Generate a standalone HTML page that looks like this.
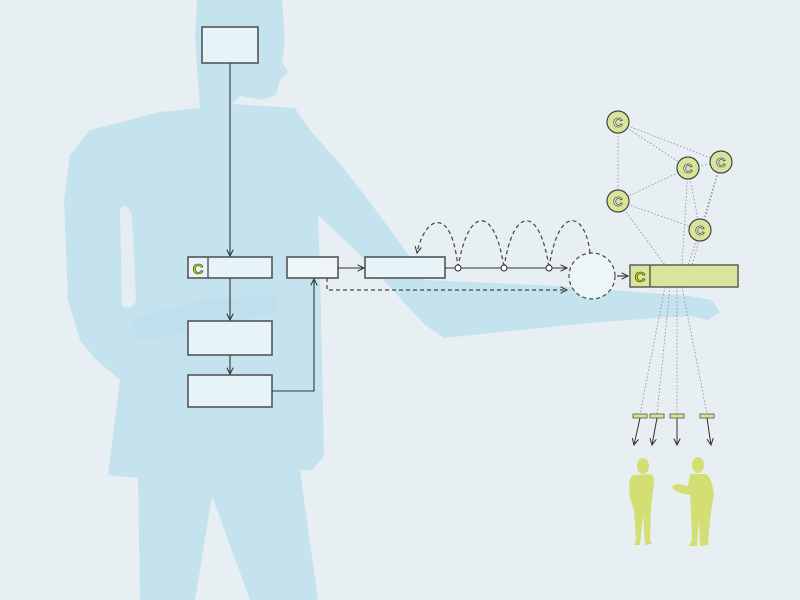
<!DOCTYPE html>
<html><head><meta charset="utf-8"><style>
html,body{margin:0;padding:0;background:#e7eff2;}
svg{display:block;}
</style></head><body>
<svg width="800" height="600" viewBox="0 0 800 600" xmlns="http://www.w3.org/2000/svg">
<defs>
<marker id="ar" viewBox="0 0 10 10" refX="9" refY="5" markerWidth="8" markerHeight="8" orient="auto-start-reverse" markerUnits="userSpaceOnUse"><path d="M1,1 L9,5 L1,9" fill="none" stroke="#333" stroke-width="1.3"/></marker>
</defs>
<rect width="800" height="600" fill="#e7eff2"/>
<!-- silhouette -->
<path fill="#c5e3ee" d="M197,0 L282,0 L285,40 L282,62 L288,72 L280,80 L276,95 L262,100 L240,96 L232,104 L295,108 L310,130 L345,170 L372,205 L405,250 L425,280 L560,286 L690,296 L712,300 L720,312 L708,320 L690,316 L600,322 L520,330 L444,338 L425,325 L400,298 L360,255 L318,215 L320,270 L324,456 L312,470 L300,470 L318,600 L250,600 L212,496 L195,600 L140,600 L138,478 L108,475 L120,380 L96,360 L80,340 L68,300 L64,200 L70,155 L90,130 L160,112 L200,108 L198,82 L195,40 Z"/>
<path fill="#e7eff2" opacity="0.85" d="M120,210 Q126,200 132,215 L136,300 Q132,312 122,306 Z"/>
<path fill="#b9dcea" opacity="0.5" d="M130,320 L200,300 L275,295 L280,310 L210,330 L140,340 Z"/>

<g stroke="#555" stroke-width="1.6" fill="#e6f4f9">
<rect x="202" y="27" width="56" height="36"/>
<rect x="188" y="257" width="84" height="21"/>
<rect x="188" y="321" width="84" height="34"/>
<rect x="188" y="375" width="84" height="32"/>
<rect x="287" y="257" width="51" height="21" fill="#eef6f8"/>
<rect x="365" y="257" width="80" height="21"/>
</g>
<line x1="208" y1="257" x2="208" y2="278" stroke="#555" stroke-width="1.4"/>
<text x="198" y="274" font-family="Liberation Sans, sans-serif" font-weight="bold" font-size="15" fill="#c8d400" stroke="#333" stroke-width="0.6" text-anchor="middle">C</text>

<g stroke="#333" stroke-width="1.1" fill="none">
<line x1="230" y1="63" x2="230" y2="256" marker-end="url(#ar)"/>
<line x1="230" y1="278" x2="230" y2="320" marker-end="url(#ar)"/>
<line x1="230" y1="355" x2="230" y2="374" marker-end="url(#ar)"/>
<polyline points="272,391 314,391 314,279" marker-end="url(#ar)"/>
<line x1="338" y1="268" x2="364" y2="268" marker-end="url(#ar)"/>
<line x1="445" y1="268" x2="567" y2="268" marker-end="url(#ar)"/>
</g>
<g stroke="#444" stroke-width="1.2" fill="none" stroke-dasharray="4,3">
<polyline points="327,278 327,290 567,290" marker-end="url(#ar)"/>
<path d="M458,268 C452,205 425,215 417,253" marker-end="url(#ar)"/>
<path d="M458,268 C468,205 495,205 504,268"/>
<path d="M504,268 C513,205 540,205 549,268"/>
<path d="M549,268 C558,205 585,210 590,253"/>
<circle cx="592" cy="276" r="23" fill="#eef5f7"/>
</g>
<g fill="#fff" stroke="#333" stroke-width="1.1">
<circle cx="458" cy="268" r="3"/><circle cx="504" cy="268" r="3"/><circle cx="549" cy="268" r="3"/>
</g>
<line x1="617" y1="276" x2="628" y2="276" stroke="#555" stroke-width="1.4" marker-end="url(#ar)"/>

<!-- dotted network -->
<g stroke="#888" stroke-width="0.8" stroke-dasharray="1.5,2" fill="none">
<line x1="618" y1="122" x2="688" y2="168"/><line x1="618" y1="122" x2="721" y2="162"/>
<line x1="618" y1="122" x2="618" y2="201"/><line x1="688" y1="168" x2="618" y2="201"/>
<line x1="688" y1="168" x2="721" y2="162"/><line x1="618" y1="201" x2="700" y2="230"/>
<line x1="688" y1="168" x2="700" y2="230"/><line x1="721" y1="162" x2="700" y2="230"/>
<line x1="618" y1="201" x2="665" y2="265"/><line x1="688" y1="168" x2="682" y2="265"/>
<line x1="700" y1="230" x2="688" y2="265"/><line x1="721" y1="162" x2="692" y2="265"/>
<line x1="665" y1="287" x2="640" y2="414"/><line x1="670" y1="287" x2="657" y2="414"/>
<line x1="677" y1="287" x2="677" y2="414"/><line x1="682" y1="287" x2="707" y2="414"/>
</g>
<g fill="#d8e49a" stroke="#444" stroke-width="1.2">
<circle cx="618" cy="122" r="11"/><circle cx="688" cy="168" r="11"/><circle cx="721" cy="162" r="11"/>
<circle cx="618" cy="201" r="11"/><circle cx="700" cy="230" r="11"/>
</g>
<g font-family="Liberation Sans, sans-serif" font-weight="bold" font-size="13" fill="#fff" stroke="#444" stroke-width="0.7" text-anchor="middle">
<text x="618" y="127">C</text><text x="688" y="173">C</text><text x="721" y="167">C</text>
<text x="618" y="206">C</text><text x="700" y="235">C</text>
</g>
<rect x="630" y="265" width="108" height="22" fill="#d9e59b" stroke="#555" stroke-width="1.4"/>
<line x1="650" y1="265" x2="650" y2="287" stroke="#555" stroke-width="1.4"/>
<text x="640" y="282" font-family="Liberation Sans, sans-serif" font-weight="bold" font-size="15" fill="#c8d400" stroke="#333" stroke-width="0.6" text-anchor="middle">C</text>

<g fill="#d5e28f" stroke="#555" stroke-width="0.8">
<rect x="633" y="414" width="14" height="4"/><rect x="650" y="414" width="14" height="4"/>
<rect x="670" y="414" width="14" height="4"/><rect x="700" y="414" width="14" height="4"/>
</g>
<g stroke="#333" stroke-width="1" fill="none">
<line x1="640" y1="418" x2="634" y2="445" marker-end="url(#ar)"/>
<line x1="657" y1="418" x2="652" y2="445" marker-end="url(#ar)"/>
<line x1="677" y1="418" x2="677" y2="445" marker-end="url(#ar)"/>
<line x1="707" y1="418" x2="711" y2="445" marker-end="url(#ar)"/>
</g>
<!-- people -->
<g fill="#d3df72">
<ellipse cx="643" cy="466" rx="6" ry="8"/>
<path d="M634,475 L651,474 Q656,478 653,490 L651,510 L650,540 L652,544 L645,545 L643,515 L640,545 L634,545 L636,540 L634,510 L630,498 L629,485 Q630,476 634,475 Z"/>
<ellipse cx="698" cy="465" rx="6" ry="8"/>
<path d="M690,474 L706,474 Q712,478 714,495 L712,505 L710,520 L708,545 L700,546 L699,518 L697,546 L689,546 L692,540 L691,510 L690,495 L684,494 L674,490 L672,486 L677,484 L688,486 Z"/>
</g>
</svg>
</body></html>
